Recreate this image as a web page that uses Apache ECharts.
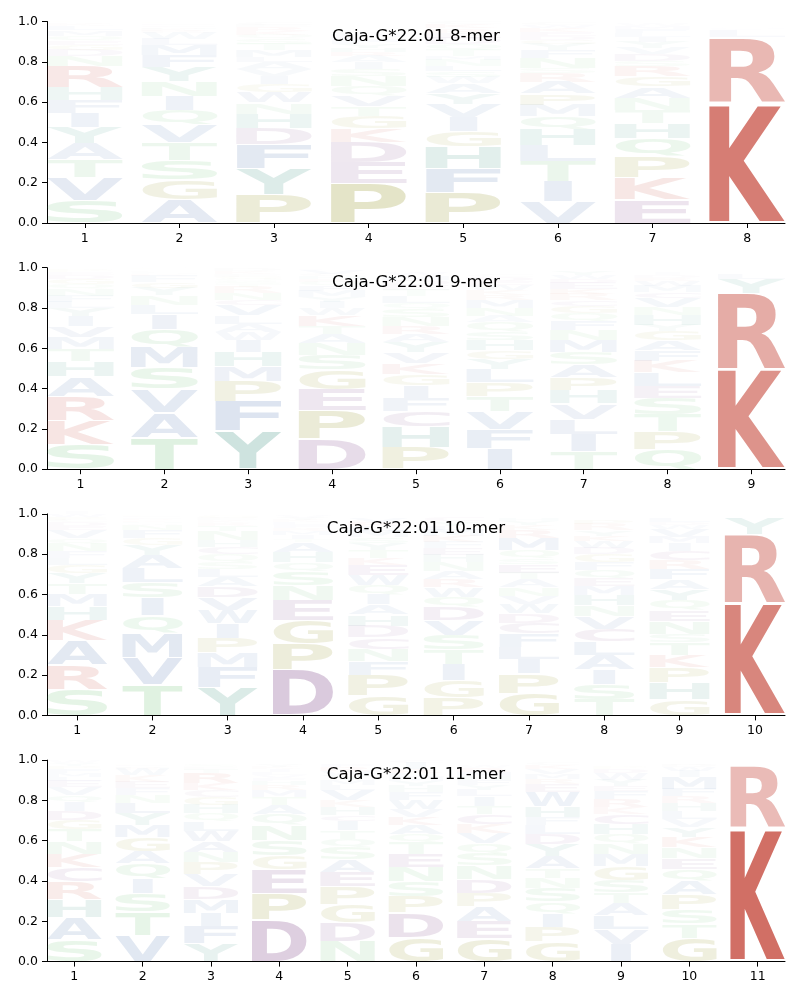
<!DOCTYPE html>
<html>
<head>
<meta charset="utf-8">
<title>Caja-G*22:01</title>
<script src="https://cdn.jsdelivr.net/npm/echarts@6/dist/echarts.min.js"></script>
<style>
  html, body { margin: 0; padding: 0; background: #fff; }
  #chart { width: 800px; height: 1000px; }
</style>
</head>
<body>
<div id="chart"></div>
<script>
// residues per position, bottom of the stack first, with their heights
const letters8 = ['SVTAYIFHRNDGEQMLKWCP', 'AGSTVQINYFMLWRKHEDCP', 'PYFDHNWGIVALMTSQKREC', 'PEDKGTVQNSIARHYFLMWC',
  'PFHGIVYAWSLNMTQDERKC', 'VITLHQMPARSNFYGDEKWC', 'EKPQHTNAGRSDVYILFMWC', 'KRLYFIMVWAGHNQSTPDEC']
const heights8 = [
  [.11, .115, .09, .08, .08, .07, .065, .065, .105, .05, .03, .025, .02, .025, .025, .02, .01, .005, .005, .005],
  [.115, .10, .095, .09, .088, .072, .07, .072, .07, .06, .05, .033, .03, .01, .01, .008, .008, .006, .005, .005],
  [.14, .13, .12, .08, .072, .055, .052, .04, .04, .035, .035, .025, .035, .03, .025, .02, .02, .02, .01, .01],
  [.195, .105, .10, .067, .062, .05, .055, .046, .05, .035, .035, .03, .02, .02, .02, .02, .015, .01, .01, .005],
  [.15, .12, .11, .075, .07, .067, .052, .048, .03, .03, .028, .03, .02, .03, .03, .03, .025, .02, .02, .01],
  [.105, .10, .10, .08, .08, .063, .058, .056, .058, .043, .025, .05, .04, .03, .02, .02, .02, .02, .015, .01],
  [.115, .11, .105, .092, .075, .065, .058, .057, .05, .05, .025, .035, .03, .03, .025, .02, .02, .015, .01, .005],
  [.595, .325, .033, .004, .003, .003, .003, .003, .003, .003, .002, .002, .002, .002, .002, .002, .002, .002, .002, .002]
]

const letters9 = ['SKRAHTMVIYLFNQGDEPWC', 'TAVSMQILNYGFRKHEDCPW', 'YFPMHIWALVCNRTSQGEKD', 'DPEGSNATKWIYMFQRHCVL',
  'PHCFIGKVYARNSQLTEDMW', 'IFVTPLYGHSQANMRKWEDC', 'TILVHPASMNFQGCRKEDWY', 'QPTSELKFAGYHNVCMWRDI', 'KRYLFIMVWAGHNQSTPDEC']
const heights9 = [
  [.123, .12, .118, .098, .075, .063, .058, .055, .05, .04, .03, .03, .033, .025, .025, .02, .015, .01, .005, .005],
  [.157, .125, .117, .105, .103, .088, .075, .045, .047, .037, .03, .03, .006, .006, .005, .005, .005, .005, .005, .004],
  [.19, .145, .10, .075, .072, .06, .04, .04, .04, .05, .025, .035, .03, .015, .015, .012, .012, .01, .015, .01],
  [.148, .143, .105, .097, .075, .057, .045, .042, .053, .035, .03, .025, .03, .025, .02, .015, .015, .01, .02, .005],
  [.11, .10, .078, .065, .063, .055, .055, .055, .05, .04, .04, .045, .04, .03, .035, .03, .025, .025, .02, .015],
  [.103, .095, .09, .075, .068, .066, .05, .043, .05, .043, .045, .03, .04, .04, .025, .025, .025, .02, .02, .012],
  [.09, .085, .075, .075, .068, .063, .063, .06, .06, .05, .043, .04, .035, .03, .03, .028, .03, .02, .02, .02],
  [.098, .088, .087, .08, .06, .067, .058, .05, .05, .047, .03, .05, .04, .045, .03, .03, .025, .015, .015, .012],
  [.495, .38, .07, .025, .002, .002, .002, .002, .002, .002, .002, .002, .002, .002, .002, .001, .001, .001, .001, .001]
]

const letters10 = ['SRAKHMTYGLFNQVEDCPWI', 'TVMQISLAYGFNWHKREDPC', 'YFMPIWVDALSQCHNTRKEG', 'DPGENSQHATIMRFLKYVWC',
  'GPFNCDHAIQWEKTYSMLRV', 'PGITSVDQWRANHEFKMLYC', 'GPILFCDWVNATESQMRKYH', 'TSIALCVNHMEQFGDWKYRP', 'GHPKTSNEQYAFRCIMVWDL', 'KRYLFIMVWAGHNQSTPDEC']
const heights10 = [
  [.13, .122, .12, .10, .068, .06, .055, .05, .04, .035, .033, .04, .025, .04, .02, .02, .01, .015, .015, .01],
  [.152, .137, .12, .085, .09, .075, .07, .068, .05, .033, .04, .025, .008, .008, .008, .008, .007, .007, .005, .005],
  [.14, .10, .072, .072, .072, .067, .063, .055, .045, .04, .035, .037, .035, .035, .045, .028, .015, .012, .01, .01],
  [.228, .13, .115, .097, .075, .07, .043, .05, .05, .015, .02, .02, .015, .015, .015, .01, .01, .01, .005, .005],
  [.10, .10, .067, .063, .057, .058, .055, .05, .05, .045, .05, .05, .036, .038, .035, .03, .03, .025, .02, .02],
  [.09, .082, .08, .073, .073, .073, .068, .05, .048, .04, .04, .043, .037, .035, .03, .03, .03, .02, .02, .02],
  [.11, .097, .07, .063, .068, .052, .047, .047, .04, .04, .04, .033, .042, .03, .04, .06, .04, .025, .02, .015],
  [.078, .077, .073, .072, .067, .063, .063, .052, .053, .043, .038, .042, .04, .038, .03, .035, .028, .028, .03, .02],
  [.078, .083, .076, .063, .063, .042, .063, .055, .05, .055, .047, .05, .043, .047, .038, .033, .038, .02, .015, .02],
  [.556, .341, .08, .004, .002, .002, .002, .002, .001, .001, .001, .001, .001, .001, .001, .001, .001, .001, .001, .001]
]

const letters11 = ['SAHRCKNTGDIQVELMFPYW', 'VTSIQAGMYLNFEKWRHDPC', 'YFIMDVPNAWLQHGCKRTES', 'DPEGSNQATMRHFVLIKYWC',
  'NDGPEASQTICHKVLMYWRF', 'GDPSNETQAKVWFHYMLRIC', 'GEAPDNSQVKCTILYFHMRW', 'GPIQSNTAYDLFHWERMVKC', 'IVLATSGMNQHCKRFEYWDP', 'GTSPAQENKYVLHRFMIWDC',
  'KRLYFIMVWAGHNQSTPDEC']
const heights11 = [
  [.108, .11, .09, .09, .068, .067, .063, .06, .047, .045, .043, .033, .04, .03, .02, .02, .02, .015, .015, .01],
  [.13, .118, .092, .072, .077, .06, .067, .06, .058, .053, .04, .033, .033, .03, .03, .01, .007, .007, .005, .003],
  [.09, .085, .067, .068, .063, .06, .058, .052, .053, .052, .047, .04, .043, .038, .033, .035, .05, .018, .012, .012],
  [.207, .13, .12, .068, .076, .075, .055, .047, .04, .033, .025, .02, .015, .015, .015, .015, .01, .01, .005, .005],
  [.10, .095, .09, .087, .072, .063, .06, .043, .042, .047, .03, .04, .03, .05, .025, .025, .025, .02, .02, .015],
  [.118, .123, .083, .073, .07, .068, .058, .04, .046, .038, .038, .046, .038, .03, .025, .02, .02, .02, .03, .015],
  [.113, .086, .077, .065, .068, .068, .06, .05, .05, .043, .05, .042, .047, .033, .025, .025, .02, .02, .02, .012],
  [.098, .072, .067, .06, .067, .05, .047, .063, .06, .05, .043, .04, .055, .07, .04, .025, .025, .025, .02, .012],
  [.086, .075, .068, .06, .053, .063, .068, .058, .055, .046, .051, .05, .033, .038, .04, .025, .033, .033, .02, .012],
  [.118, .07, .07, .075, .066, .06, .055, .055, .05, .047, .04, .04, .04, .033, .038, .058, .03, .02, .012, .008],
  [.66, .31, .002, .002, .001, .001, .001, .001, .001, .001, .001, .001, .001, .001, .001, .001, .001, .001, .001, .001]
]

const merNames = ['Caja-G*22:01 8-mer', 'Caja-G*22:01 9-mer', 'Caja-G*22:01 10-mer', 'Caja-G*22:01 11-mer']
const merLetters = [letters8, letters9, letters10, letters11]
const merHeights = [heights8, heights9, heights10, heights11]
const yTicks = [0, 0.2, 0.4, 0.6, 0.8, 1]

const residueColors = {
  K: '#c0392b', R: '#c0392b',
  D: '#6c2b78', E: '#6c2b78', C: '#6c2b78',
  P: '#808000', G: '#808000',
  S: '#45b050', T: '#45b050', N: '#45b050', Q: '#45b050',
  A: '#2c5aa0', V: '#2c5aa0', M: '#2c5aa0', L: '#2c5aa0', I: '#2c5aa0', F: '#2c5aa0', W: '#2c5aa0',
  Y: '#117a65', H: '#117a65'
}

const panelTops = [21.5, 267.7, 513.9, 760.1]
const panelHeight = 201.5
const logoFont = 'bold 100px "DejaVu Sans"'

// ink box of each glyph, so a letter can be stretched to fill its slot
const measureCtx = document.createElement('canvas').getContext('2d')
measureCtx.font = logoFont
measureCtx.textAlign = 'left'
measureCtx.textBaseline = 'middle'
const glyphBoxes = {}
function glyphBox(ch) {
  if (!glyphBoxes[ch]) {
    const m = measureCtx.measureText(ch)
    glyphBoxes[ch] = {
      left: m.actualBoundingBoxLeft,
      right: m.actualBoundingBoxRight,
      ascent: m.actualBoundingBoxAscent,
      descent: m.actualBoundingBoxDescent
    }
  }
  return glyphBoxes[ch]
}

function renderLetter(params, api) {
  const pos = api.value(0)
  const ch = api.value(3)
  const topLeft = api.coord([pos - 0.4, api.value(2)])
  const bottomRight = api.coord([pos + 0.4, api.value(1)])
  const slotW = bottomRight[0] - topLeft[0]
  const slotH = bottomRight[1] - topLeft[1]
  const pad = slotH * 0.02
  const box = glyphBox(ch)
  const ink = box.left + box.right
  const eBox = glyphBox('E')
  // no letter gets stretched wider than E, which keeps I narrow
  const sx = slotW / Math.max(ink, eBox.left + eBox.right)
  const sy = (slotH - 2 * pad) / (box.ascent + box.descent)
  const drawnW = ink * sx
  return {
    type: 'text',
    x: topLeft[0] + (slotW - drawnW) / 2 + box.left * sx,
    y: topLeft[1] + pad + box.ascent * sy,
    scaleX: sx,
    scaleY: sy,
    silent: true,
    style: {
      text: ch,
      x: 0,
      y: 0,
      font: logoFont,
      align: 'left',
      verticalAlign: 'middle',
      fill: residueColors[ch],
      opacity: Math.min(1, (api.value(2) - api.value(1)) * 1.1)
    }
  }
}

const grids = [], xAxes = [], yAxes = [], titles = [], series = []
merNames.forEach((name, i) => {
  const n = merLetters[i].length
  const positions = merLetters[i].map((_, p) => p + 1)
  grids.push({ left: 47, right: 15, top: panelTops[i], height: panelHeight })
  titles.push({
    text: name,
    left: 416,
    top: panelTops[i] + 15,
    padding: 0,
    textAlign: 'center',
    textVerticalAlign: 'middle',
    textStyle: { fontFamily: 'DejaVu Sans', fontSize: 16.67, fontWeight: 'normal', color: '#000' }
  })
  xAxes.push({
    type: 'value',
    gridIndex: i,
    min: 0.6,
    max: n + 0.4,
    splitLine: { show: false },
    axisLine: { lineStyle: { color: '#000', width: 1 } },
    axisTick: { length: 5, lineStyle: { color: '#000' }, customValues: positions },
    axisLabel: { color: '#000', fontFamily: 'DejaVu Sans', fontSize: 12.5, margin: 9, customValues: positions }
  })
  yAxes.push({
    type: 'value',
    gridIndex: i,
    min: yTicks[0],
    max: yTicks[yTicks.length - 1],
    interval: 0.2,
    splitLine: { show: false },
    axisLine: { show: true, lineStyle: { color: '#000', width: 1 } },
    axisTick: { show: true, length: 5, lineStyle: { color: '#000' } },
    axisLabel: { color: '#000', fontFamily: 'DejaVu Sans', fontSize: 12.5, margin: 9, formatter: v => v.toFixed(1) }
  })
  const rows = []
  merLetters[i].forEach((letters, p) => {
    let bottom = 0
    letters.split('').forEach((ch, k) => {
      const h = merHeights[i][p][k]
      rows.push([p + 1, bottom, bottom + h, ch])
      bottom += h
    })
  })
  series.push({
    type: 'custom',
    xAxisIndex: i,
    yAxisIndex: i,
    renderItem: renderLetter,
    encode: { x: 0, y: [1, 2] },
    dimensions: [
      { name: 'pos', type: 'number' }, { name: 'bottom', type: 'number' },
      { name: 'top', type: 'number' }, { name: 'letter', type: 'ordinal' }
    ],
    data: rows
  })
})

const chart = echarts.init(document.getElementById('chart'), null, { renderer: 'canvas' })
chart.setOption({
  animation: false,
  backgroundColor: '#fff',
  title: titles,
  grid: grids,
  xAxis: xAxes,
  yAxis: yAxes,
  series: series
})
</script>
</body>
</html>
